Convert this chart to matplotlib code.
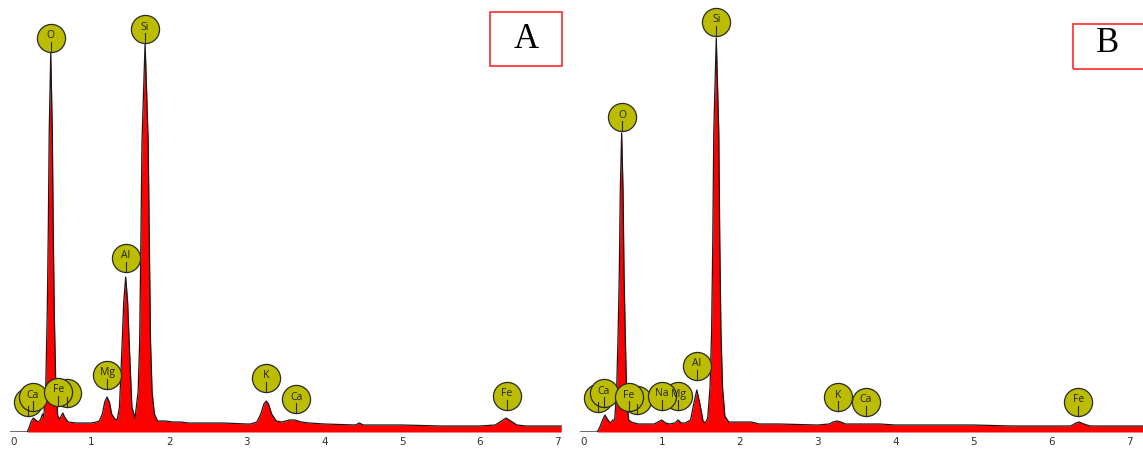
import matplotlib.pyplot as plt
from matplotlib.patches import Rectangle

# spectrum A (energy keV, counts)
energy_a = [-0.05, 0.17, 0.19, 0.22, 0.25, 0.28, 0.31, 0.34, 0.37, 0.385, 0.41, 0.43, 0.443, 0.455,
            0.475, 0.495, 0.507, 0.52, 0.54, 0.565, 0.59, 0.63, 0.66, 0.70, 0.80, 0.90, 1.00, 1.06,
            1.10, 1.14, 1.17, 1.20, 1.23, 1.26, 1.30, 1.33, 1.36, 1.39, 1.415, 1.44, 1.465, 1.49,
            1.52, 1.56, 1.60, 1.62, 1.635, 1.65, 1.69, 1.73, 1.745, 1.76, 1.78, 1.81, 1.85, 1.95,
            2.05, 2.15, 2.25, 2.4, 2.7, 3.0, 3.05, 3.13, 3.18, 3.22, 3.25, 3.28, 3.32, 3.38, 3.45,
            3.55, 3.62, 3.70, 3.8, 4.0, 4.4, 4.45, 4.5, 5.0, 5.5, 6.0, 6.2, 6.28, 6.34, 6.40, 6.48,
            6.6, 7.05]
counts_a = [0, 0, 3, 10, 14, 12, 10, 12, 18, 15, 45, 120, 200, 300,
            379, 300, 200, 120, 45, 16, 13, 19, 14, 10, 9, 9, 9, 10,
            11, 18, 30, 35, 30, 18, 13, 12, 25, 80, 130, 155, 130, 80,
            25, 14, 40, 90, 185, 290, 389, 290, 185, 90, 40, 18, 11, 11,
            10, 10, 9, 9, 9, 8, 8, 10, 18, 28, 31, 28, 18, 11, 10,
            12, 12, 10, 9, 8, 7, 9, 7, 7, 6, 6, 7, 11, 14, 11, 7,
            6, 6]

# spectrum B
energy_b = [-0.05, 0.17, 0.20, 0.24, 0.27, 0.30, 0.34, 0.37, 0.395, 0.42, 0.44, 0.455, 0.467, 0.485,
            0.503, 0.515, 0.53, 0.55, 0.575, 0.61, 0.65, 0.70, 0.80, 0.90, 0.95, 1.00, 1.05, 1.10,
            1.17, 1.21, 1.25, 1.30, 1.37, 1.41, 1.45, 1.49, 1.53, 1.56, 1.59, 1.62, 1.64, 1.655,
            1.668, 1.70, 1.732, 1.745, 1.76, 1.78, 1.81, 1.86, 2.0, 2.15, 2.25, 2.5, 3.0, 3.15,
            3.2, 3.25, 3.3, 3.36, 3.5, 3.6, 3.8, 4.0, 4.5, 5.0, 5.5, 6.0, 6.25, 6.32, 6.36, 6.42,
            6.5, 7.0, 7.2]
counts_b = [0, 0, 4, 12, 17, 13, 9, 12, 12, 40, 100, 160, 240, 299,
            240, 160, 100, 35, 12, 10, 9, 8, 8, 8, 10, 12, 9, 8,
            9, 12, 9, 9, 12, 28, 42, 28, 11, 9, 14, 45, 100, 190,
            300, 394, 300, 190, 100, 45, 16, 10, 10, 10, 8, 8, 7, 8,
            10, 11, 10, 8, 8, 8, 8, 7, 7, 7, 6, 6, 6, 9, 10, 8,
            6, 6, 6]

# element markers: label, energy, circle centre height
marks_a = [("", 0.18, 30), ("Ca", 0.24, 35), ("", 0.68, 39), ("Fe", 0.57, 40),
           ("O", 0.473, 394), ("Si", 1.69, 403), ("Al", 1.44, 174), ("Mg", 1.20, 57),
           ("K", 3.25, 54), ("Ca", 3.64, 33), ("Fe", 6.35, 36)]
marks_b = [("", 0.18, 34), ("Ca", 0.257, 39), ("", 0.68, 32), ("Fe", 0.58, 35),
           ("Mg", 1.21, 36), ("Na", 1.00, 36), ("Al", 1.45, 66), ("O", 0.49, 315),
           ("Si", 1.70, 410), ("K", 3.26, 35), ("Ca", 3.62, 30), ("Fe", 6.35, 30)]

W, H = 1143, 449
fig = plt.figure(figsize=(W / 100, H / 100), dpi=100)


def draw_panel(left, right, xmax, energy, counts, marks):
    ax = fig.add_axes([left / W, 17 / H, (right - left) / W, 432 / H])
    ax.fill_between(energy, counts, 0, color="#ff0000", lw=0)
    ax.plot(energy, counts, color="#1a1a1a", lw=0.9)
    ax.set_xlim(-0.05, xmax)
    ax.set_ylim(0, 432)
    for s in ax.spines.values():
        s.set_visible(False)
    ax.set_yticks([])
    ax.set_xticks(range(8))
    ax.tick_params(axis="x", length=0, pad=3.5, labelsize=7.5, labelcolor="#333333")
    for lab, x, y in marks:
        ax.scatter([x], [y], s=410, color="#bcbd00", edgecolor="#2a2a2a", lw=0.9,
                   zorder=5, clip_on=False)
        ax.plot([x, x], [y - 4, y - 14], color="#2a2a2a", lw=0.8, zorder=6)
        if lab:
            ax.text(x, y + 2, lab, ha="center", va="center", fontsize=7.5,
                    family="Open Sans", color="#222222", zorder=7)
    return ax


draw_panel(10, 562, 7.06, energy_a, counts_a, marks_a)
draw_panel(580, 1143, 7.18, energy_b, counts_b, marks_b)

# panel letters in red boxes
for (x0, y0, x1, y1, tx, ty, letter) in [(490, 12, 562, 66, 526, 40, "A"),
                                          (1073, 24, 1160, 69, 1108, 44, "B")]:
    fig.add_artist(Rectangle((x0 / W, 1 - y1 / H), (x1 - x0) / W, (y1 - y0) / H,
                             transform=fig.transFigure, fill=False, ec="#ff2a2a", lw=1.2))
    fig.text(tx / W, 1 - ty / H, letter, ha="center", va="center", fontsize=25,
             family="Liberation Serif", color="black")

fig.savefig("out.png", dpi=100)
